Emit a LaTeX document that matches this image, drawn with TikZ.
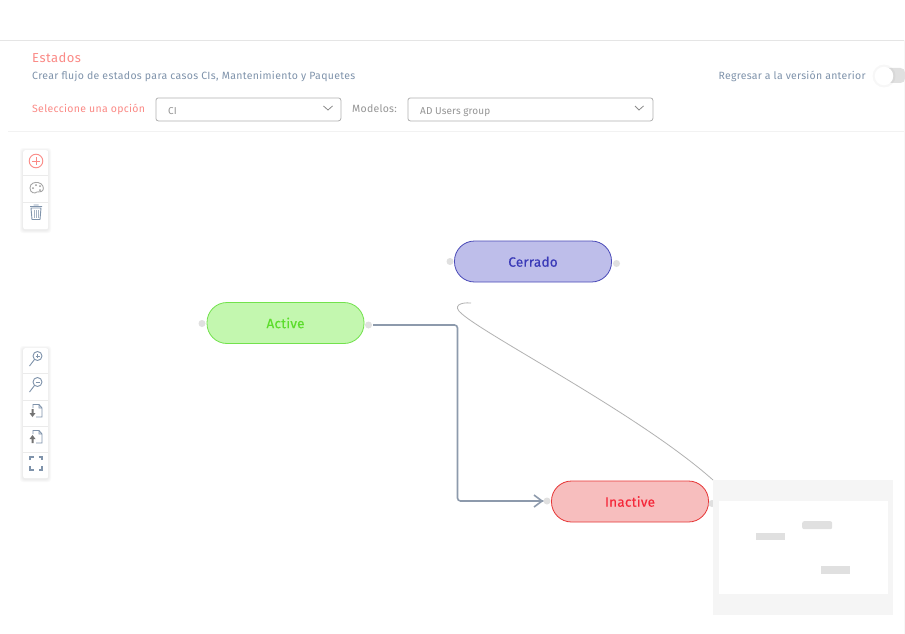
\documentclass[tikz,border=0pt]{standalone}
\usepackage{fontspec}
\setmainfont{Fira Sans}
\usetikzlibrary{arrows.meta}
\definecolor{salmon}{HTML}{FB8A86}
\definecolor{slateT}{HTML}{7F93AB}
\definecolor{greyT}{HTML}{959595}
\definecolor{lineC}{HTML}{8D9AAC}
\definecolor{portC}{HTML}{E0E0E0}
\definecolor{gFill}{HTML}{C3F7AF}
\definecolor{gLine}{HTML}{72E24C}
\definecolor{gText}{HTML}{5CDD2C}
\definecolor{bFill}{HTML}{BEBEEA}
\definecolor{bLine}{HTML}{4A4AB8}
\definecolor{bText}{HTML}{3A3AB8}
\definecolor{rFill}{HTML}{F7BEBE}
\definecolor{rLine}{HTML}{E63636}
\definecolor{rText}{HTML}{F5283A}
\newcommand{\statelabel}[1]{\smash{\raisebox{-5.2pt}{#1}}}
\tikzset{
  x=1pt,y=-1pt,
  lbl/.style={inner sep=0pt,anchor=base west},
  selbox/.style={draw=black!30,line width=.8pt,rounded corners=2.5pt,fill=white,anchor=north west,inner sep=0pt},
  state/.style={draw=#1,line width=.8pt,rounded corners=20pt,minimum width=157pt,minimum height=41pt,inner sep=0pt,font=\fontsize{13.5}{15}\selectfont\addfontfeature{LetterSpace=1.8,FakeBold=0.25}},
  port/.style={circle,fill=portC,minimum size=7pt,inner sep=0pt},
  toolbar/.style={fill=white,rounded corners=2pt,anchor=north west,inner sep=0pt,minimum width=25pt},
  sep/.style={draw=black!8,line width=.7pt},
  ico/.style={draw=slateT,line width=.9pt,fill=none},
  soft/.style={fill=black,fill opacity=.025,rounded corners=3pt},
  mini/.style={fill=black!12,anchor=north west,inner sep=0pt,minimum width=29pt,minimum height=8pt},
}
\begin{document}
\begin{tikzpicture}
\useasboundingbox (0,0) rectangle (905,634);
\fill[white] (0,0) rectangle (905,634);
% header rules
\draw[draw=black!10,line width=.8pt] (0,40.5) -- (905,40.5);
\draw[draw=black!5,line width=.7pt] (8,131) -- (905,131);
\fill[black!3] (904,40) rectangle (905,634);
% header texts
\node[lbl,text=salmon,font=\fontsize{13}{15}\selectfont\addfontfeature{LetterSpace=3.5}] (t1) at (32,62.5) {Estados};
\node[lbl,text=slateT,font=\fontsize{10.5}{12}\selectfont\addfontfeature{LetterSpace=3.2}] (t2) at (32,80) {Crear flujo de estados para casos CIs, Mantenimiento y Paquetes};
\node[lbl,text=salmon,font=\fontsize{10.5}{12}\selectfont\addfontfeature{LetterSpace=3}] (t3) at (32,112) {Seleccione una opción};
\node[selbox,minimum width=185pt,minimum height=23pt] (s1) at (155.5,97.5) {};
\node[lbl,text=greyT,font=\fontsize{10}{12}\selectfont] (s1t) at (168,114) {CI};
\draw[black!45,line width=.8pt] (323.5,106) -- (328,110) -- (332.5,106);
\node[lbl,text=greyT,font=\fontsize{10.5}{12}\selectfont\addfontfeature{LetterSpace=2.4}] (t4) at (352,112) {Modelos:};
\node[selbox,minimum width=245pt,minimum height=23pt] (s2) at (407.5,97.5) {};
\node[lbl,text=greyT,font=\fontsize{10}{12}\selectfont\addfontfeature{LetterSpace=1}] (s2t) at (420,114) {AD Users group};
\draw[black!45,line width=.8pt] (635,106) -- (639,110) -- (643.5,106);
\node[lbl,text=slateT,font=\fontsize{10.5}{12}\selectfont\addfontfeature{LetterSpace=2.5}] (t5) at (718.5,80) {Regresar a la versión anterior};
% toggle
\fill[black!12,rounded corners=4.5pt] (880,68) rectangle (905,83);
\fill[black,fill opacity=.03] (884,76) circle (11.5) (884,76) circle (10.5);
\node[circle,fill=white,minimum size=18.5pt,inner sep=0pt] (tog) at (884,76) {};
% toolbar 1
\foreach \g in {1,2,3}{\fill[soft] (23-\g,150-\g+1) rectangle (48+\g,229+\g+1);}
\node[toolbar,minimum height=79pt] (tb1) at (23,150) {};
\draw[sep] (23,175) -- (48,175);
\draw[sep] (23,202) -- (48,202);
\draw[salmon,line width=.9pt] (36,161) circle (6.8);
\draw[salmon,line width=.9pt] (36,157) -- (36,165) (32,161) -- (40,161);
\draw[ico,draw=black!35] (30,188) .. controls (30,183) and (35,182) .. (38,182.5) .. controls (43,183.5) and (44,188) .. (43,190) .. controls (41,193) and (39,191) .. (37,192) .. controls (35,194) and (30,193) .. (30,188) -- cycle;
\fill[black!40] (33,188) circle (1) (36,185) circle (1) (40,186) circle (1) (40,190) circle (1);
\draw[ico] (31,208) -- (41,208) -- (40,219.5) -- (32,219.5) -- cycle (30,206.5) -- (42,206.5) (33.5,205) -- (38.5,205);
\draw[ico,draw=slateT!70,line width=.7pt] (34,210) -- (34,218) (36,210) -- (36,218) (38,210) -- (38,218);
% toolbar 2
\foreach \g in {1,2,3}{\fill[soft] (23-\g,348-\g+1) rectangle (48+\g,478+\g+1);}
\node[toolbar,minimum height=130pt] (tb2) at (23,348) {};
\draw[sep] (23,373) -- (48,373);
\draw[sep] (23,400) -- (48,400);
\draw[sep] (23,426) -- (48,426);
\draw[sep] (23,452) -- (48,452);
\draw[ico] (37.5,356) circle (4.5) (34.5,359.5) -- (29.5,366);
\draw[ico,line width=.7pt] (35.5,356) -- (39.5,356) (37.5,354) -- (37.5,358);
\draw[ico] (37.5,382) circle (4.5) (34.5,385.5) -- (29.5,392);
\draw[ico,line width=.7pt] (35.5,382) -- (39.5,382);
\draw[ico] (33,408) -- (33,404.5) -- (39,404.5) -- (42,408) -- (42,417) -- (36,417) (39,404.5) -- (39,408) -- (42,408);
\fill[black!55] (31.5,409) rectangle (33.5,413) (29.5,413) -- (35.5,413) -- (32.5,417) -- cycle;
\draw[ico] (33,434) -- (33,430.5) -- (39,430.5) -- (42,434) -- (42,443) -- (36,443) (39,430.5) -- (39,434) -- (42,434);
\fill[black!55] (31.5,443) rectangle (33.5,439) (29.5,439) -- (35.5,439) -- (32.5,435) -- cycle;
\draw[ico,line width=1.1pt] (30,460) -- (30,457) -- (33.5,457) (38.5,457) -- (42,457) -- (42,460) (42,466) -- (42,470) -- (38.5,470) (33.5,470) -- (30,470) -- (30,466);
% state nodes
\node[state=gLine,text=gText,fill=gFill] (active) at (285.5,323) {\statelabel{Active}};
\node[state=bLine,text=bText,fill=bFill] (cerrado) at (533,261.5) {\statelabel{Cerrado}};
\node[state=rLine,text=rText,fill=rFill] (inactive) at (630,501.5) {\statelabel{Inactive}};
% ports
\node[port] (pa1) at (202,323.5) {};
\node[port] (pa2) at (368.5,325) {};
\node[port] (pc1) at (450,261.5) {};
\node[port] (pc2) at (616.5,263.5) {};
\node[port] (pi1) at (547,501) {};
\node[port] (pi2) at (712,503.5) {};
% connector
\draw[lineC,line width=1.6pt,rounded corners=3pt] (pa2.east) ++(1,0) -- (457.5,325) -- (457.5,501) -- (pi1.west);
\draw[lineC,line width=1.6pt] (534,495) -- (542,501) -- (534,507);
% long curve
\coordinate (c1) at (471,303);
\coordinate (c2) at (713,480);
\draw[black!30,line width=.8pt] (c1) .. controls (460,302) and (452,306) .. (462,314) .. controls (490,338) and (640,415) .. (c2);
% minimap
\fill[black!4] (713,480) rectangle (893,615);
\fill[white] (719,501) rectangle (888,594);
\node[mini,rounded corners=2pt,minimum width=30pt] (m1) at (802,521) {};
\node[mini,minimum height=7pt] (m2) at (756,533) {};
\node[mini] (m3) at (821,566) {};
\end{tikzpicture}
\end{document}
